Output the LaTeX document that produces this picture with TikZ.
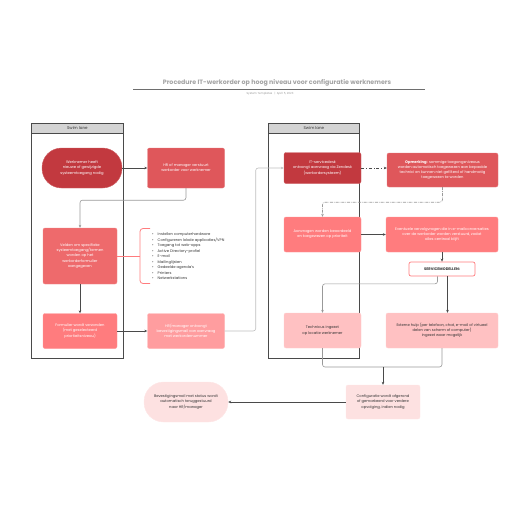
\documentclass[tikz,border=0pt]{standalone}
\usepackage{fontspec}
\setmainfont{Poppins}
\usetikzlibrary{arrows.meta}
\definecolor{cA}{HTML}{C2393F}
\definecolor{cB}{HTML}{DF575B}
\definecolor{cC}{HTML}{EE6A6C}
\definecolor{cD}{HTML}{FF7C7E}
\definecolor{cE}{HTML}{FF9D9F}
\definecolor{cF}{HTML}{FFC1C2}
\definecolor{cG}{HTML}{FDE1E1}
\definecolor{lanegray}{HTML}{D4D4D4}
\definecolor{linegray}{HTML}{999999}
\definecolor{darkline}{HTML}{4A4A4A}
\definecolor{txt}{HTML}{333333}
\begin{document}
\begin{tikzpicture}[x=1pt,y=-1pt,
  box/.style={rectangle, rounded corners=2pt, fill=#1, draw=#1!80!white, line width=0.4pt,
     align=center, inner sep=1pt, font=\fontsize{3.7}{5.2}\selectfont, text=white},
  pill/.style={box=#1, rounded corners=19.5pt},
  conn/.style={draw=linegray, line width=0.6pt, -{Stealth[length=3pt,width=2.6pt]}, rounded corners=2.5pt},
  dconn/.style={conn, draw=darkline},
  lane/.style={draw=darkline, line width=0.8pt},
  lanehead/.style={rectangle, draw=darkline, line width=0.8pt, fill=lanegray, minimum width=92pt, minimum height=10pt, inner sep=0pt, font=\fontsize{4}{5}\selectfont, text=txt}
]
\useasboundingbox (0,0) rectangle (516,516);
% title
\node[font=\bfseries\fontsize{6.3}{7}\selectfont, text=linegray!90] (title) at (277,83) {Procedure IT-werkorder op hoog niveau voor configuratie werknemers};
\coordinate (tl) at (133,89.5);
\coordinate (tr) at (425,89.5);
\draw[darkline!80, line width=0.6pt] (tl) -- (tr);
\node[font=\fontsize{2.8}{3}\selectfont, text=linegray] (sub) at (270,93.5) {System Templates \enspace|\enspace April 5, 2023};

% lanes
\draw[lane] (31,123) rectangle (123,358);
\node[lanehead, anchor=north west] (lh1) at (31,123) {Swim lane};
\draw[lane] (268,123) rectangle (359,358);
\node[lanehead, minimum width=91pt, anchor=north west] (lh2) at (268,123) {Swim lane};

% nodes
\node[pill=cA, minimum width=80pt, minimum height=40pt] (n1) at (82,168) {Werknemer heeft\\nieuwe of gewijzigde\\systeemtoegang nodig};
\node[box=cB, minimum width=77pt, minimum height=40pt] (n2) at (186,168) {HR of manager verstuurt\\werkorder voor werknemer};
\node[box=cC, minimum width=74pt, minimum height=56pt] (n3) at (80,256) {Velden om specifieke\\systeemtoegang/termen\\worden op het\\werkorderformulier\\aangegeven};
\node[box=cD, minimum width=74pt, minimum height=35pt] (n4) at (80,331) {Formulier wordt verzonden\\(met geselecteerd\\prioriteitsniveau)};
\node[box=cE, minimum width=77pt, minimum height=35pt] (n5) at (186,331) {HR/manager ontvangt\\bevestigingsmail van aanvraag\\met werkordernummer};
\node[box=cA, minimum width=77pt, minimum height=31pt] (n6) at (322.5,168) {IT-servicedesk\\ontvangt aanvraag via Zendesk\\(werkordersysteem)};
\node[box=cB, minimum width=111pt, minimum height=34pt] (n7) at (442.5,170) {\textbf{Opmerking:} sommige toegangsniveaus\\worden automatisch toegewezen aan bepaalde\\technici en kunnen niet gefilterd of handmatig\\toegewezen te worden};
\node[box=cD, minimum width=77pt, minimum height=35pt] (n8) at (322.5,234.5) {Aanvragen worden beoordeeld\\en toegewezen op prioriteit};
\node[box=cD, minimum width=112pt, minimum height=35pt] (n9) at (442,234.5) {Eventuele vervolgvragen die in e-mailconversaties\\over de werkorder worden verstuurd, zodat\\alles centraal blijft};
\node[box=white, draw=cD, line width=0.7pt, text=txt, minimum width=66pt, minimum height=14pt, font=\bfseries\fontsize{3.7}{4.5}\selectfont] (n10) at (442,269) {SERVICEMODELLEN:};
\node[box=cF, text=txt, minimum width=77pt, minimum height=35pt] (n11) at (322.5,330.5) {Technicus ingezet\\op locatie werknemer};
\node[box=cF, text=txt, minimum width=112pt, minimum height=35pt] (n12) at (442,330.5) {Externe hulp (per telefoon, chat, e-mail of virtueel\\delen van scherm of computer)\\ingezet waar mogelijk};
\node[box=cG, text=txt, minimum width=74pt, minimum height=34pt] (n13) at (383,402) {Configuratie wordt afgerond\\of gemarkeerd voor verdere\\opvolging, indien nodig};
\node[pill=cG, text=txt, minimum width=84pt, minimum height=40pt] (n14) at (186,402) {Bevestigingsmail met status wordt\\automatisch teruggestuurd\\naar HR/manager};

% list and brace
\node[anchor=north west, align=left, inner sep=0pt, font=\fontsize{3.7}{5.5}\selectfont, text=txt] (list) at (152,233) {%
\textbullet\hspace{4pt}Instellen computerhardware\\
\textbullet\hspace{4pt}Configureren lokale applicaties/VPN\\
\textbullet\hspace{4pt}Toegang tot web-apps\\
\textbullet\hspace{4pt}Active Directory-profiel\\
\textbullet\hspace{4pt}E-mail\\
\textbullet\hspace{4pt}Mailinglijsten\\
\textbullet\hspace{4pt}Gedeelde agenda's\\
\textbullet\hspace{4pt}Printers\\
\textbullet\hspace{4pt}Netwerkstations};
\coordinate (bt) at (150,228.5);
\coordinate (bb) at (150,283.5);
\coordinate (bm) at (140,256);
\draw[cD, line width=0.8pt, rounded corners=3pt] (bt) -| (bm) |- (bb);
\draw[cD, line width=0.8pt] (n3.east) -- (bm);

% connectors
\draw[dconn] (n1) -- (n2);
\draw[conn] (n2.south) -- ++(0,12) -| (n3.north);
\draw[dconn] (n3) -- (n4);
\draw[dconn] (n4) -- (n5);
\draw[conn, draw=lanegray!90!black] (n5.east) -- ++(31,0) |- (n6.west);
\draw[dconn, dash dot] (n6) -- (n7.west |- n6);
\draw[conn, densely dash dot] (n7.south) -- ++(0,15) -| (n8.north);
\draw[dconn] (n8) -- (n9);
\draw[dconn] (n9) -- (n10);
\draw[conn] ([xshift=-4.5pt]n10.south) -- ++(0,7.5) -| (n11.north);
\draw[dconn] ([xshift=5.5pt]n10.south) -- ([xshift=5.5pt]n10.south |- n12.north);
\coordinate (m) at (383,367);
\draw[draw=linegray, line width=0.6pt, rounded corners=2.5pt] (n11.south) |- (m);
\draw[draw=linegray, line width=0.6pt, rounded corners=2.5pt] (n12.south) |- (m);
\draw[dconn] (m) -- (n13.north);
\draw[dconn] (n13) -- (n14);
\end{tikzpicture}
\end{document}
